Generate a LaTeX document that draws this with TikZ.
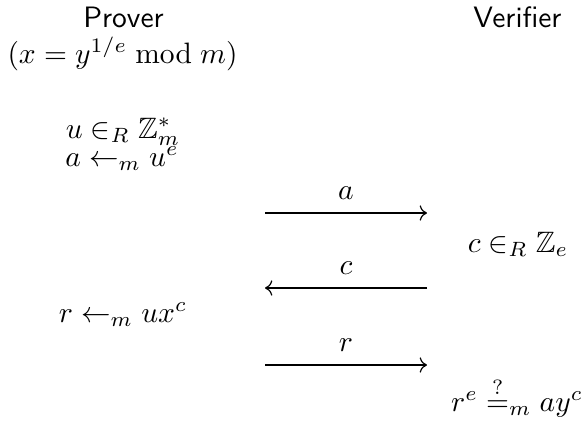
\documentclass[tikz,border=0pt]{standalone}
\usepackage{amsmath,amssymb}
\usetikzlibrary{arrows.meta}
\begin{document}
\begin{tikzpicture}[x=0.339pt,y=-0.339pt,
  txt/.style={anchor=base,inner sep=0pt,outer sep=0pt},
  msg/.style={line width=0.4pt,-{Computer Modern Rightarrow}},
  lbl/.style={anchor=base,inner sep=0pt,yshift=4.6pt}]
\useasboundingbox (0,0) rectangle (584,421);
\node[txt] (prover) at (123.5,27) {\sffamily Prover};
\node[txt] (verifier) at (517.5,27) {\sffamily Verifier};
\node[txt] (secret) at (122.5,63) {$(x = y^{1/e} \bmod m)$};
\node[txt] (pick) at (123,138) {$u \in_R \mathbb{Z}_m^*$};
\node[txt] (commit) at (122,166) {$a \leftarrow_m u^e$};
\node[txt] (chal) at (518,252) {$c \in_R \mathbb{Z}_e$};
\node[txt] (resp) at (123,322) {$r \leftarrow_m ux^c$};
\node[txt] (check) at (517,411) {$r^e \stackrel{?}{=}_m ay^c$};
\coordinate (a1) at (265,213); \coordinate (a2) at (427,213);
\coordinate (c1) at (427,288); \coordinate (c2) at (265,288);
\coordinate (r1) at (265,365); \coordinate (r2) at (427,365);
\draw[msg] (a1) -- node[lbl] (la) {$a$} (a2);
\draw[msg] (c1) -- node[lbl] (lc) {$c$} (c2);
\draw[msg] (r1) -- node[lbl] (lr) {$r$} (r2);
\end{tikzpicture}
\end{document}
